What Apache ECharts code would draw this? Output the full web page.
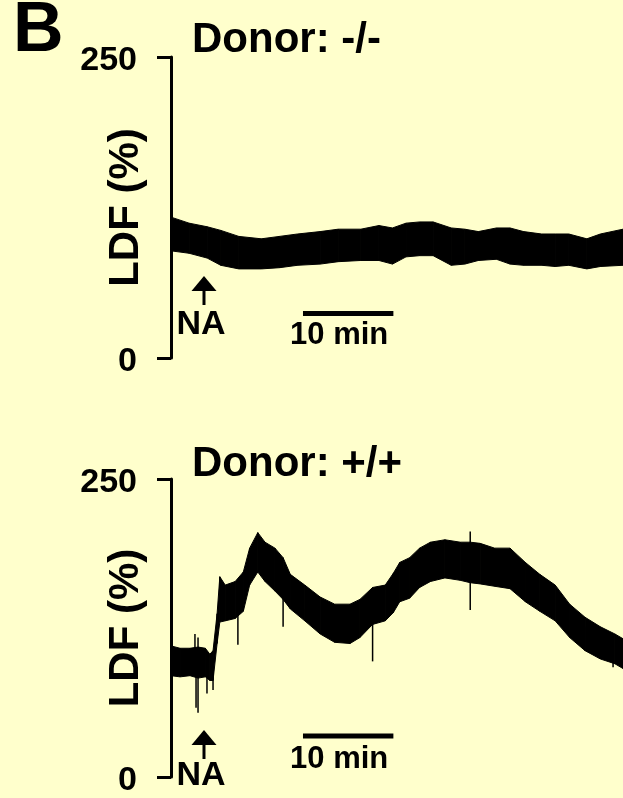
<!DOCTYPE html>
<html>
<head>
<meta charset="utf-8">
<script src="https://cdn.jsdelivr.net/npm/echarts@6/dist/echarts.min.js"></script>
<style>
  html, body { margin:0; padding:0; background:#FFFFCC; }
  #chart { width:623px; height:798px; }
</style>
</head>
<body>
<div id="chart"></div>
<script>
// ---------- data (minutes, LDF %) ----------
const panelTitles = ['Donor: -/-', 'Donor: +/+'];
const yTicks = [0, 250];

// Panel 1 (Donor -/-): envelope of the noisy trace
const times1 = [0, 2, 4, 5.5, 7.5, 10, 12, 14, 16.5, 18.5, 21, 23, 24.5, 26, 27.5, 29, 31, 32.5, 34, 36, 37.5, 39, 41, 42.5, 44, 46, 47.5, 50];
const upper1 = [117, 112, 109, 106, 101, 99, 101, 103, 105, 107, 107, 110, 108, 112, 113, 113, 108, 107, 105, 108, 108, 105, 103, 103, 103, 99, 103, 107];
const lower1 = [89, 87, 83, 77, 74, 74, 75, 77, 78, 80, 81, 81, 78, 84, 85, 85, 77, 78, 81, 82, 78, 77, 77, 76, 77, 74, 76, 77];

// Panel 2 (Donor +/+): envelope of the noisy trace
const times2 = [0, 1, 2.1, 3.0, 3.8, 4.3, 4.65, 5.1, 5.4, 6.0, 7.1, 8.0, 8.7, 9.6, 10.4, 11.5, 12.4, 13.2, 14.8, 16.5, 18.1, 19.8, 20.9, 22.3, 23.7, 24.6, 25.3, 26.4, 27.5, 28.7, 30.3, 32.0, 33.1, 34.2, 35.8, 37.5, 39.2, 40.8, 42.5, 44.1, 45.8, 47.5, 49.1, 50];
const upper2 = [110, 108, 108, 109, 108, 103, 106, 137, 168, 161, 164, 172, 192, 205, 197, 192, 184, 170, 161, 151, 145, 145, 149, 159, 161, 171, 180, 184, 192, 197, 199, 197, 197, 196, 192, 192, 180, 170, 161, 145, 134, 126, 120, 116];
const lower2 = [85, 84, 85, 83, 84, 81, 81, 112, 130, 131, 133, 139, 161, 172, 164, 156, 149, 141, 131, 120, 113, 112, 117, 128, 131, 138, 147, 150, 159, 164, 167, 165, 163, 162, 160, 158, 147, 139, 131, 117, 106, 99, 95, 91];

// Panel 2 isolated spikes
const spikeT2  = [2.65, 2.77, 2.99, 3.98, 4.65, 7.4, 12.4, 22.3, 33.1, 48.9];
const spikeHi2 = [120, 105, 117, 105, 100, 160, 175, 150, 206, 110];
const spikeLo2 = [96, 58, 54, 70, 73, 111, 126, 97, 140, 92];

// annotations
const naTime = 3.65;          // NA application (min)
const scaleBarStart = 14.6;   // min
const scaleBarLength = 10;    // min
const scaleBarLabel = '10 min';
const xMax = 50;

// ---------- chart ----------
const FONT = '"Liberation Sans", Arial, Helvetica, sans-serif';
const chart = echarts.init(document.getElementById('chart'), null, {renderer:'canvas'});

const grids = [
  {left:171, top:57, width:452, height:301},
  {left:171, top:479, width:452, height:303}
];

function yAxisFor(i){
  return {
    type:'value', gridIndex:i, min:yTicks[0], max:yTicks[1], interval:yTicks[1]-yTicks[0],
    name:'LDF (%)', nameLocation:'middle', nameGap:24, nameMoveOverlap:false,
    nameTextStyle:{color:'#000', fontSize:42, fontWeight:'bold', fontFamily:FONT},
    axisLine:{show:true, lineStyle:{color:'#000', width:3}},
    axisTick:{show:true, length:14, lineStyle:{color:'#000', width:3}},
    axisLabel:{color:'#000', fontSize:34, fontWeight:'bold', fontFamily:FONT, margin:34, verticalAlign:'top', lineHeight:8},
    splitLine:{show:false}
  };
}
function xAxisFor(i){
  return {type:'value', gridIndex:i, min:0, max:xMax, show:false};
}

// filled band between lower and upper envelopes, one quad per segment
function bandSeries(i, times, lower, upper){
  return {
    type:'custom', xAxisIndex:i, yAxisIndex:i, silent:true, clip:true,
    data: times.map((t,k)=>[t, lower[k], upper[k]]),
    encode:{x:0, y:[1,2]},
    renderItem: function(params, api){
      const k = params.dataIndex;
      if (k >= times.length-1) return null;
      const p1 = api.coord([times[k], lower[k]]);
      const p2 = api.coord([times[k], upper[k]]);
      const p3 = api.coord([times[k+1], upper[k+1]]);
      const p4 = api.coord([times[k+1], lower[k+1]]);
      return {type:'polygon', shape:{points:[p1,p2,p3,p4]}, style:{fill:'#000', stroke:'#000', lineWidth:1}};
    }
  };
}

const spikeSeries = {
  type:'custom', xAxisIndex:1, yAxisIndex:1, silent:true,
  data: spikeT2.map((t,k)=>[t, spikeLo2[k], spikeHi2[k]]),
  encode:{x:0, y:[1,2]},
  renderItem: function(params, api){
    const a = api.coord([api.value(0), api.value(1)]);
    const b = api.coord([api.value(0), api.value(2)]);
    return {type:'line', shape:{x1:a[0], y1:a[1], x2:b[0], y2:b[1]}, style:{stroke:'#000', lineWidth:1.5}};
  }
};

chart.setOption({
  animation:false,
  backgroundColor:'#FFFFCC',
  grid: grids,
  xAxis: [xAxisFor(0), xAxisFor(1)],
  yAxis: [yAxisFor(0), yAxisFor(1)],
  series: [bandSeries(0, times1, lower1, upper1), bandSeries(1, times2, lower2, upper2), spikeSeries]
});

// annotations placed via the axis scales
function px(i, t){ return chart.convertToPixel({xAxisIndex:i}, t); }
const gfx = [];
gfx.push({type:'text', left:13, top:-3, style:{text:'B', font:'bold 70px '+FONT, fill:'#000'}});
const titleY = [40, 464];
const arrowTop = [276, 730];
const naY = [325, 776];
const barY = [313.5, 736];
const barTextY = [335, 759];
for (let i=0;i<2;i++){
  gfx.push({type:'text', x:192, y:titleY[i], style:{text:panelTitles[i], font:'bold 42px '+FONT, fill:'#000', align:'left', verticalAlign:'middle'}});
  const ax = px(i, naTime);
  gfx.push({type:'polygon', shape:{points:[[ax, arrowTop[i]],[ax-12.5, arrowTop[i]+15],[ax+12.5, arrowTop[i]+15]]}, style:{fill:'#000'}});
  gfx.push({type:'rect', shape:{x:ax-1.5, y:arrowTop[i]+14, width:3, height:15}, style:{fill:'#000'}});
  gfx.push({type:'text', x:ax-3, y:naY[i], style:{text:'NA', font:'bold 34px '+FONT, fill:'#000', align:'center', verticalAlign:'middle'}});
  const b0 = px(i, scaleBarStart), b1 = px(i, scaleBarStart+scaleBarLength);
  gfx.push({type:'rect', shape:{x:b0, y:barY[i]-2.5, width:b1-b0, height:5}, style:{fill:'#000'}});
  gfx.push({type:'text', x:(b0+b1)/2-9, y:barTextY[i], style:{text:scaleBarLabel, font:'bold 31px '+FONT, fill:'#000', align:'center', verticalAlign:'middle'}});
}
chart.setOption({graphic: gfx});
</script>
</body>
</html>
